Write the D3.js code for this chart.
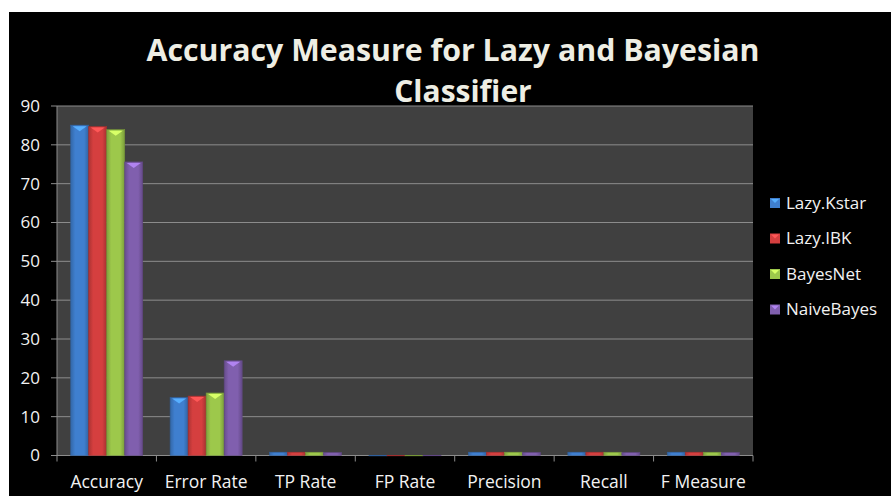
<!DOCTYPE html>
<html>
<head>
<meta charset="utf-8">
<script src="https://cdn.jsdelivr.net/npm/d3@7"></script>
<style>
  body { margin: 0; background: #fff; }
  text { font-family: "Open Sans", "Noto Sans", sans-serif; }
</style>
</head>
<body>
<svg id="chart" width="891" height="496"></svg>
<script>
// data
const categories = ['Accuracy', 'Error Rate', 'TP Rate', 'FP Rate', 'Precision', 'Recall', 'F Measure'];
const seriesNames = ['Lazy.Kstar', 'Lazy.IBK', 'BayesNet', 'NaiveBayes'];
const lazyKstar  = [85.07, 14.93, 0.85, 0.03, 0.85, 0.85, 0.85];
const lazyIBK    = [84.7, 15.3, 0.85, 0.04, 0.85, 0.85, 0.85];
const bayesNet   = [83.9, 16.1, 0.84, 0.04, 0.85, 0.84, 0.84];
const naiveBayes = [75.6, 24.4, 0.76, 0.06, 0.78, 0.76, 0.76];
const yTicks = [0, 10, 20, 30, 40, 50, 60, 70, 80, 90];
const colors = ['#3f7fcf', '#d53f3f', '#9dc84b', '#805fae'];

const allSeries = [lazyKstar, lazyIBK, bayesNet, naiveBayes];

const svg = d3.select('#chart');

// black chart panel
svg.append('rect')
    .attr('x', 9).attr('y', 12)
    .attr('width', 882).attr('height', 484)
    .attr('fill', '#000');

const plot = {left: 57, right: 753, top: 106, bottom: 455.5};

const x = d3.scaleBand()
    .domain(categories)
    .range([plot.left, plot.right])
    .paddingInner(0).paddingOuter(0);

const x1 = d3.scaleBand()
    .domain(seriesNames)
    .range([0, x.bandwidth()])
    .paddingOuter(0.76).paddingInner(0);

const y = d3.scaleLinear()
    .domain([0, 90])
    .range([plot.bottom, plot.top]);

// plot area background
svg.append('rect')
    .attr('x', plot.left).attr('y', plot.top)
    .attr('width', plot.right - plot.left).attr('height', plot.bottom - plot.top)
    .attr('fill', '#404040');

// gridlines + y labels
const yAxis = svg.append('g');
yAxis.selectAll('line')
    .data(yTicks)
    .join('line')
    .attr('x1', plot.left - 6).attr('x2', plot.right)
    .attr('y1', d => y(d)).attr('y2', d => y(d))
    .attr('stroke', '#8c8c8c').attr('stroke-width', 1);
yAxis.selectAll('text')
    .data(yTicks)
    .join('text')
    .attr('x', 40).attr('y', d => y(d))
    .attr('dy', '0.35em')
    .attr('text-anchor', 'end')
    .attr('fill', '#f2f2f2')
    .attr('font-size', 17)
    .text(d => d);

// y axis line and category ticks
svg.append('line')
    .attr('x1', plot.left).attr('x2', plot.left)
    .attr('y1', plot.top).attr('y2', plot.bottom + 6)
    .attr('stroke', '#8c8c8c');
svg.append('g').selectAll('line')
    .data(categories)
    .join('line')
    .attr('x1', d => x(d) + x.bandwidth()).attr('x2', d => x(d) + x.bandwidth())
    .attr('y1', plot.bottom).attr('y2', plot.bottom + 6)
    .attr('stroke', '#8c8c8c');

// gradients for bevelled bars
const defs = svg.append('defs');
colors.forEach((c, i) => {
    const g = defs.append('linearGradient')
        .attr('id', 'grad' + i)
        .attr('x1', '0%').attr('x2', '100%').attr('y1', '0%').attr('y2', '0%');
    g.append('stop').attr('offset', '0%').attr('stop-color', d3.color(c).darker(0.6));
    g.append('stop').attr('offset', '25%').attr('stop-color', c);
    g.append('stop').attr('offset', '75%').attr('stop-color', c);
    g.append('stop').attr('offset', '100%').attr('stop-color', d3.color(c).darker(0.7));
});

// bars
const groups = svg.append('g').selectAll('g')
    .data(categories)
    .join('g')
    .attr('transform', d => `translate(${x(d)},0)`);

groups.each(function(cat, ci) {
    const g = d3.select(this);
    seriesNames.forEach((s, si) => {
        const v = allSeries[si][ci];
        const bx = x1(s), bw = x1.bandwidth();
        const top = y(v), h = plot.bottom - top;
        g.append('rect')
            .attr('x', bx).attr('y', top)
            .attr('width', bw).attr('height', Math.max(h, 0.5))
            .attr('fill', `url(#grad${si})`)
            .attr('stroke', d3.color(colors[si]).darker(0.8))
            .attr('stroke-width', 0.6);
        if (h > 8) {
            // light bevel triangle at bar top
            g.append('path')
                .attr('d', `M${bx + 2},${top + 1}L${bx + bw - 2},${top + 1}L${bx + bw / 2},${top + 6}Z`)
                .attr('fill', d3.color(colors[si]).brighter(0.9));
        }
    });
});

// category labels
svg.append('g').selectAll('text')
    .data(categories)
    .join('text')
    .attr('x', d => x(d) + x.bandwidth() / 2)
    .attr('y', 488)
    .attr('text-anchor', 'middle')
    .attr('fill', '#f2f2f2')
    .attr('font-size', 17.5)
    .text(d => d);

// title (two lines)
svg.append('text')
    .attr('x', 453).attr('y', 61)
    .attr('text-anchor', 'middle')
    .attr('fill', '#eeeee4')
    .attr('font-size', 30).attr('font-weight', 'bold')
    .attr('textLength', 613).attr('lengthAdjust', 'spacingAndGlyphs')
    .text('Accuracy Measure for Lazy and Bayesian');
svg.append('text')
    .attr('x', 463).attr('y', 102)
    .attr('text-anchor', 'middle')
    .attr('fill', '#eeeee4')
    .attr('font-size', 30).attr('font-weight', 'bold')
    .text('Classifier');

// legend
const legend = svg.append('g').selectAll('g')
    .data(seriesNames)
    .join('g')
    .attr('transform', (d, i) => `translate(770,${203 + i * 35.5})`);
legend.append('rect')
    .attr('x', 0).attr('y', -5)
    .attr('width', 10).attr('height', 10)
    .attr('fill', (d, i) => colors[i]);
legend.append('path')
    .attr('d', 'M1,-4L9,-4L5,0Z')
    .attr('fill', (d, i) => d3.color(colors[i]).brighter(0.9));
legend.append('text')
    .attr('x', 16).attr('dy', '0.35em')
    .attr('fill', '#f2f2f2')
    .attr('font-size', 17)
    .text(d => d);
</script>
</body>
</html>
